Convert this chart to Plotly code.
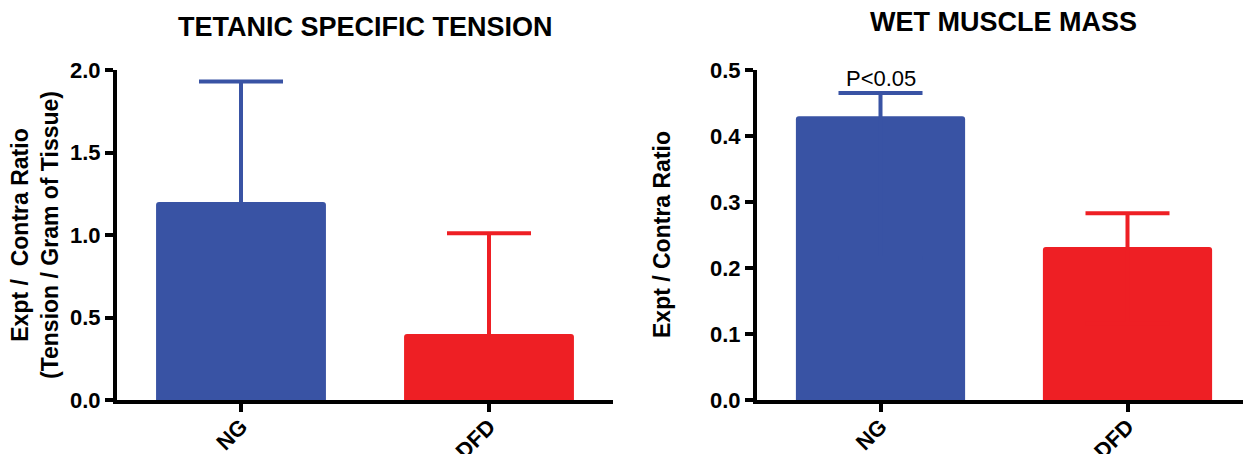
import plotly.graph_objects as go

categories = ["NG", "DFD"]
tension_values = [1.20, 0.40]
tension_err = [0.73, 0.61]
mass_values = [0.43, 0.232]
mass_err = [0.035, 0.051]
bar_colors = ["#3953a4", "#ee1f24"]
left_ticks = [0.0, 0.5, 1.0, 1.5, 2.0]
right_ticks = [0.0, 0.1, 0.2, 0.3, 0.4, 0.5]

FONT = "Liberation Sans, Arial, sans-serif"
# page body has an 8px margin, so the figure is 8px smaller and coordinates are shifted
OFF = 8
W, H = 1251 - OFF, 454 - OFF

fig = go.Figure()

for i, cat in enumerate(categories):
    # lower whisker hidden inside the bar (same colour)
    fig.add_trace(go.Bar(
        x=[cat], y=[tension_values[i]], width=0.685,
        marker=dict(color=bar_colors[i], line=dict(width=0), cornerradius=3),
        error_y=dict(type="data", symmetric=False, array=[tension_err[i]],
                     arrayminus=[tension_values[i] * 0.5],
                     color=bar_colors[i], thickness=4, width=42),
        xaxis="x", yaxis="y", showlegend=False))
    fig.add_trace(go.Bar(
        x=[cat], y=[mass_values[i]], width=0.685,
        marker=dict(color=bar_colors[i], line=dict(width=0), cornerradius=3),
        error_y=dict(type="data", symmetric=False, array=[mass_err[i]],
                     arrayminus=[mass_values[i] * 0.5],
                     color=bar_colors[i], thickness=4, width=42),
        xaxis="x2", yaxis="y2", showlegend=False))

axis_common = dict(showline=True, linecolor="black", linewidth=4, ticks="outside",
                   ticklen=8, tickwidth=4, tickcolor="black", showgrid=False, zeroline=False,
                   automargin=False,
                   tickfont=dict(family=FONT, size=22, color="black", weight="bold"))

fig.update_layout(
    width=W, height=H,
    margin=dict(l=0, r=0, t=70 - OFF, b=54),
    plot_bgcolor="white", paper_bgcolor="white",
    xaxis=dict(domain=[(117 - OFF) / W, (613 - OFF) / W], range=[-0.5, 1.5], tickangle=-45,
               ticklabelstandoff=-7,
               categoryorder="array", categoryarray=categories, anchor="y", **axis_common),
    yaxis=dict(range=[0, 2.0], tickvals=left_ticks, tickformat=".1f", anchor="x", **axis_common),
    xaxis2=dict(domain=[(757 - OFF) / W, 1.0], range=[-0.5, 1.5], tickangle=-45,
                ticklabelstandoff=-7,
                categoryorder="array", categoryarray=categories, anchor="y2", **axis_common),
    yaxis2=dict(range=[0, 0.5], tickvals=right_ticks, tickformat=".1f", anchor="x2", **axis_common),
)

annotations = [
    dict(text="TETANIC SPECIFIC TENSION", x=(365 - OFF) / W, y=1.13, xref="paper", yref="paper",
         showarrow=False, xanchor="center", yanchor="middle",
         font=dict(family=FONT, size=27, color="black", weight="bold")),
    dict(text="WET MUSCLE MASS", x=(1003 - OFF) / W, y=1.145, xref="paper", yref="paper",
         showarrow=False, xanchor="center", yanchor="middle",
         font=dict(family=FONT, size=27, color="black", weight="bold")),
    dict(text="Expt /  Contra Ratio<br>(Tension / Gram of Tissue)", x=(35 - OFF) / W, y=0.5,
         xref="paper", yref="paper", showarrow=False, textangle=-90,
         xanchor="center", yanchor="middle",
         font=dict(family=FONT, size=23, color="black", weight="bold")),
    dict(text="Expt / Contra Ratio", x=(662 - OFF) / W, y=0.5,
         xref="paper", yref="paper", showarrow=False, textangle=-90,
         xanchor="center", yanchor="middle",
         font=dict(family=FONT, size=23, color="black", weight="bold")),
    dict(text="P<0.05", x="NG", y=mass_values[0] + mass_err[0], xref="x2", yref="y2",
         showarrow=False, xanchor="center", yanchor="bottom", yshift=0,
         font=dict(family=FONT, size=22, color="black")),
]
fig.update_layout(annotations=annotations)

fig.write_html("out.html")
